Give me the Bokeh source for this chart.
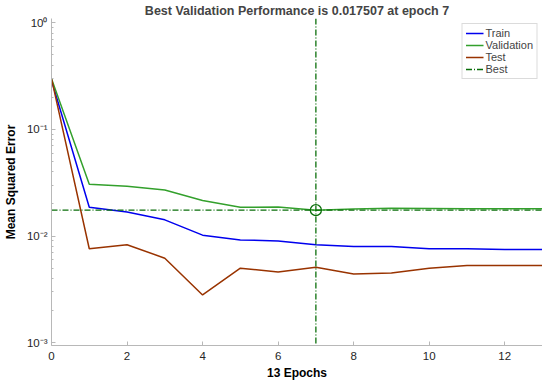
from bokeh.plotting import figure
from bokeh.models import Range1d, CustomJSTickFormatter, FixedTicker, Legend, LegendItem, Span
from bokeh.embed import file_html
from bokeh.resources import INLINE

epochs = list(range(14))
train = [0.29, 0.0186, 0.0168, 0.0142, 0.0102, 0.0092, 0.0090, 0.0083, 0.0080, 0.0080, 0.0076, 0.0076, 0.0075, 0.0075]
validation = [0.30, 0.0306, 0.0294, 0.0270, 0.0216, 0.0186, 0.0187, 0.017507, 0.0179, 0.0182, 0.0181, 0.0180, 0.0180, 0.0180]
test = [0.30, 0.0076, 0.0083, 0.0062, 0.0028, 0.0050, 0.0046, 0.0051, 0.0044, 0.0045, 0.0050, 0.0053, 0.0053, 0.0053]
best_epoch = 7
best_perf = 0.017507
x_ticks = [0, 2, 4, 6, 8, 10, 12]
y_ticks = [0.001, 0.01, 0.1, 1.0]

FONT = "Liberation Sans"

p = figure(frame_width=491, frame_height=327, y_axis_type="log", output_backend="svg",
           toolbar_location=None, x_range=Range1d(0, 13), y_range=Range1d(0.00094, 1.1),
           min_border_left=4, min_border_right=0, min_border_top=4, min_border_bottom=2,
           title="Best Validation Performance is 0.017507 at epoch 7")
p.title.align = "center"
p.title.text_font = FONT
p.title.text_font_size = "12.5px"
p.title.text_font_style = "bold"
p.title.offset = 0
p.title.standoff = 2
p.outline_line_color = None
p.xgrid.grid_line_color = None
p.ygrid.grid_line_color = None

for ax in (p.xaxis[0], p.yaxis[0]):
    ax.axis_line_color = "#b8b8b8"
    ax.major_tick_line_color = "#b8b8b8"
    ax.minor_tick_line_color = "#b8b8b8"
    ax.major_tick_in = 4
    ax.major_tick_out = 0
    ax.minor_tick_in = 2
    ax.minor_tick_out = 0
    ax.major_label_text_font = FONT
    ax.major_label_text_font_size = "11.5px"
    ax.major_label_text_color = "#262626"
    ax.axis_label_text_font = FONT
    ax.axis_label_text_font_size = "12px"
    ax.axis_label_text_font_style = "bold"
    ax.axis_label_text_color = "#000000"

p.xaxis.ticker = FixedTicker(ticks=x_ticks)
p.xaxis.minor_tick_line_color = None
p.xaxis.axis_label = "13 Epochs"
p.xaxis.axis_label_standoff = 3
p.xaxis.major_label_standoff = 6

p.yaxis.axis_label = "Mean Squared Error"
p.yaxis.axis_label_standoff = 6
p.yaxis.major_label_standoff = 4
p.yaxis.formatter = CustomJSTickFormatter(code="""
const e = Math.round(Math.log10(tick));
const sup = {'-':'\u207b','0':'\u2070','1':'\u00b9','2':'\u00b2','3':'\u00b3','4':'\u2074','5':'\u2075','6':'\u2076','7':'\u2077','8':'\u2078','9':'\u2079'};
return '10' + String(e).split('').map(c => sup[c]).join('');
""")

c_train = "#0000ee"
c_val = "#33a02c"
c_test = "#993300"
c_best = "#0a6e0a"

r_train = p.line(epochs, train, line_color=c_train, line_width=1.5)
r_val = p.line(epochs, validation, line_color=c_val, line_width=1.5)
r_test = p.line(epochs, test, line_color=c_test, line_width=1.5)

r_best = p.line([0, 13], [best_perf, best_perf], line_color=c_best, line_width=1.3, line_dash="6 2 1 2")
p.add_layout(Span(location=best_epoch, dimension="height", line_color=c_best, line_width=1.3, line_dash="6 2 1 2"))
p.scatter([best_epoch], [best_perf], marker="circle", size=11, fill_color=None, line_color=c_best, line_width=1.3)

legend = Legend(items=[
    LegendItem(label="Train", renderers=[r_train]),
    LegendItem(label="Validation", renderers=[r_val]),
    LegendItem(label="Test", renderers=[r_test]),
    LegendItem(label="Best", renderers=[r_best]),
], location="top_right")
legend.label_text_font = FONT
legend.label_text_font_size = "11px"
legend.label_height = 10
legend.glyph_height = 10
legend.glyph_width = 18
legend.spacing = 0
legend.padding = 3
legend.margin = 5
legend.label_standoff = 2
legend.border_line_color = "#b8b8b8"
legend.background_fill_alpha = 1.0
p.add_layout(legend)

open("out.html", "w").write(file_html(p, INLINE))
